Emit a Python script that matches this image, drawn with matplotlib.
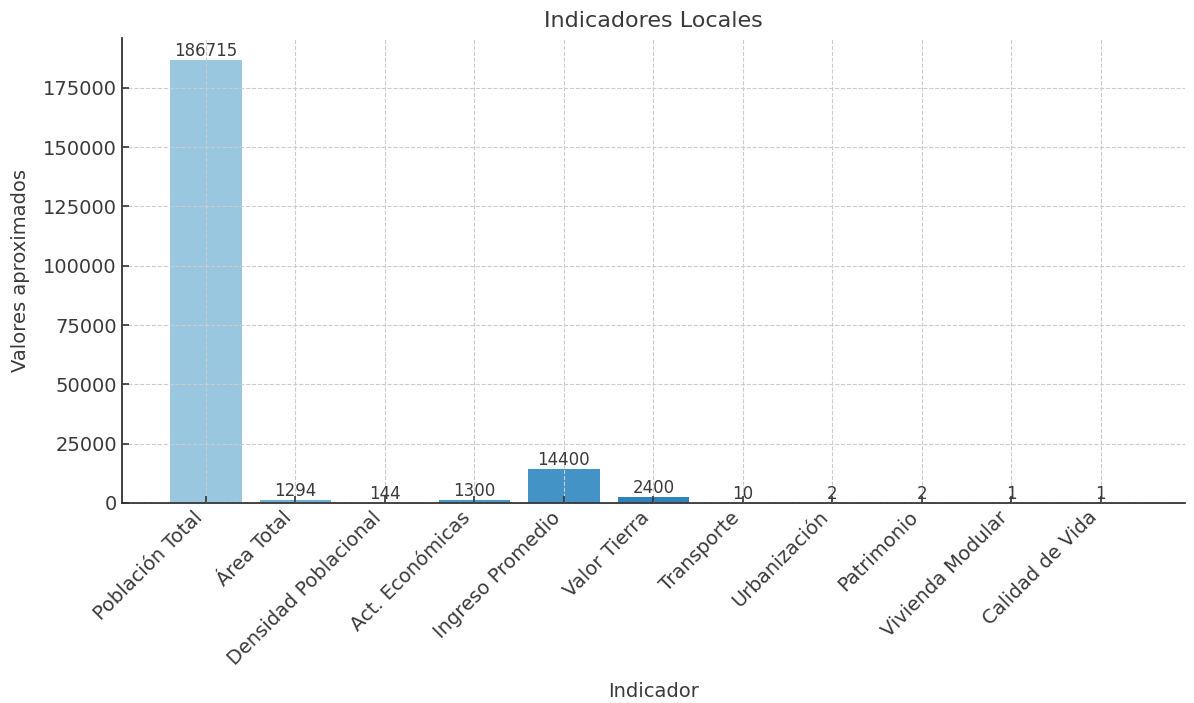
import matplotlib
matplotlib.use("Agg")
import matplotlib.pyplot as plt
import numpy as np

categories = ["Población Total", "Área Total", "Densidad Poblacional", "Act. Económicas",
              "Ingreso Promedio", "Valor Tierra", "Transporte", "Urbanización",
              "Patrimonio", "Vivienda Modular", "Calidad de Vida"]
values = [186715, 1294, 144, 1300, 14400, 2400, 10, 2, 2, 1, 1]

title = "Indicadores Locales"
xlabel = "Indicador"
ylabel = "Valores aproximados"

text_color = "#3a3a3a"
colors = plt.cm.Blues([0.39, 0.49, 0.55, 0.60, 0.62, 0.69, 0.74, 0.79, 0.84, 0.89, 0.94])

fig = plt.figure(figsize=(11.94, 7.03), dpi=100)
ax = fig.add_axes([0.102, 0.2845, 0.8905, 0.6615])

x = np.arange(len(categories))
bars = ax.bar(x, values, width=0.8, color=colors, zorder=2)

for xi, v in zip(x, values):
    ax.text(xi, v, str(v), ha="center", va="bottom", fontsize=12, color=text_color, zorder=3)

ax.set_xticks(x)
ax.set_xticklabels(categories, rotation=45, ha="right", fontsize=14, color=text_color)
ax.tick_params(axis="y", labelsize=14, labelcolor=text_color)
ax.tick_params(direction="in", length=5, width=1.2, color="#333333")

ax.set_title(title, fontsize=16, color=text_color, pad=8)
ax.set_xlabel(xlabel, fontsize=14, color=text_color, labelpad=10)
ax.set_ylabel(ylabel, fontsize=14, color=text_color, labelpad=9)

ax.grid(True, linestyle="--", color="#cccccc", linewidth=0.8, zorder=0)
ax.set_axisbelow(False)
for s in ["top", "right"]:
    ax.spines[s].set_visible(False)
for s in ["left", "bottom"]:
    ax.spines[s].set_color("#333333")
    ax.spines[s].set_linewidth(1.3)

fig.savefig("out.png", dpi=100)
